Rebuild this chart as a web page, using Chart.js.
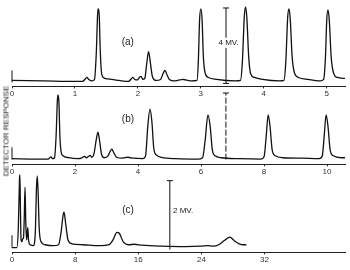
<!DOCTYPE html>
<html>
<head>
<meta charset="utf-8">
<script src="https://cdn.jsdelivr.net/npm/chart.js@4"></script>
<style>
  body { margin: 0; background: #fff; }
  #wrap { position: relative; width: 350px; height: 270px; overflow: hidden; }
  .panel { position: absolute; left: 0; width: 350px; }
  #ylabel {
    position: absolute; left: 6px; top: 131px;
    transform: translate(-50%, -50%) rotate(-90deg);
    font: 8px "Liberation Sans", sans-serif; color: #111; white-space: nowrap;
  }
</style>
</head>
<body>
<div id="wrap">
  <div class="panel" style="top:0;height:100px"><canvas id="chartA"></canvas></div>
  <div class="panel" style="top:88px;height:90px"><canvas id="chartB"></canvas></div>
  <div class="panel" style="top:168px;height:98px"><canvas id="chartC"></canvas></div>
  <div id="ylabel">DETECTOR RESPONSE</div>
</div>
<script>
// trace (a) - time units, signal height
const aTime = [0, 0.5, 1.0, 1.12, 1.17, 1.19, 1.22, 1.27, 1.31, 1.34, 1.36, 1.37, 1.385, 1.40, 1.42, 1.45, 1.52, 1.7, 1.85,
  1.90, 1.92, 1.95, 1.99, 2.03, 2.05, 2.08, 2.11, 2.14, 2.17, 2.20, 2.23, 2.29, 2.36, 2.40, 2.43, 2.46, 2.50, 2.58,
  2.66, 2.71, 2.76, 2.85, 2.94, 2.96, 2.98, 3.00, 3.02, 3.04, 3.07, 3.12, 3.25, 3.55, 3.63, 3.66, 3.69, 3.71, 3.73,
  3.76, 3.79, 3.85, 3.98, 4.25, 4.32, 4.35, 4.38, 4.40, 4.42, 4.45, 4.49, 4.55, 4.70, 4.90, 4.95, 4.98, 5.00, 5.02,
  5.04, 5.07, 5.11, 5.17, 5.29];
const aSignal = [1, 0.5, 0, 0, 3, 4, 2, 0.5, 2, 30, 68, 73, 68, 35, 10, 4, 2.5, 1, 0,
  3, 4, 2, 1.5, 4.5, 5, 2, 3, 18, 30, 18, 5, 1, 2, 8, 11, 7, 2, 0.5,
  1.5, 2, 1.5, 0.5, 1, 20, 62, 73, 62, 25, 8, 4, 2, 0.5, 1, 20, 65, 75, 65,
  25, 8, 4, 2, 0.5, 1, 20, 65, 73, 63, 25, 8, 4, 2, 0.5, 2, 25, 62, 72,
  62, 25, 8, 4, 3];

// trace (b)
const bTime = [0, 0.8, 1.15, 1.21, 1.24, 1.28, 1.35, 1.40, 1.44, 1.46, 1.49, 1.52, 1.56, 1.62, 1.8, 2.1, 2.2, 2.27,
  2.31, 2.36, 2.43, 2.48, 2.53, 2.60, 2.68, 2.73, 2.78, 2.84, 2.92, 3.05, 3.12, 3.17, 3.22, 3.32, 3.50, 3.68, 3.85,
  4.15, 4.24, 4.31, 4.38, 4.44, 4.50, 4.58, 4.75, 5.2, 5.9, 6.05, 6.13, 6.22, 6.29, 6.36, 6.45, 6.65, 7.2, 7.9,
  8.0, 8.07, 8.13, 8.19, 8.26, 8.36, 8.6, 9.2, 9.75, 9.85, 9.91, 9.97, 10.03, 10.10, 10.2, 10.45, 10.57];
const bSignal = [1, 0.5, 0.5, 2.5, 3, 1, 2, 25, 62, 68, 60, 25, 8, 4, 2, 1, 1.5, 3,
  3.5, 2, 3.5, 4.5, 2.5, 6, 22, 29, 20, 6, 2, 4, 9, 11, 8, 2.5, 1.5, 2.5, 1.5,
  1, 4, 35, 53, 40, 12, 5, 2.5, 1, 0.5, 2, 20, 47, 35, 10, 4, 2, 1, 0.5,
  3, 25, 47, 35, 10, 4, 2, 1.5, 1, 4, 25, 47, 35, 10, 4, 2, 2];

// trace (c)
const cTime = [0, 0.6, 0.8, 0.95, 1.0, 1.07, 1.15, 1.25, 1.35, 1.45, 1.55, 1.65, 1.75, 1.85, 1.93, 2.0, 2.1, 2.3,
  2.7, 2.95, 3.1, 3.2, 3.3, 3.45, 3.7, 4.2, 5.2, 5.9, 6.2, 6.5, 6.6, 6.8, 7.1, 7.6, 9, 11, 12.3, 12.8, 13.3, 13.6,
  14.1, 14.8, 15.5, 16.5, 19, 22, 24, 24.8, 25.5, 26.2, 27.0, 27.6, 28.2, 28.8, 29.3, 29.7];
const cSignal = [0, 0, 20, 72, 76, 40, 8, 6, 9, 10, 30, 63, 25, 8, 15, 21, 8, 3,
  2, 15, 62, 75, 60, 20, 6, 3, 2, 3, 15, 35, 37, 25, 8, 4, 3, 2, 3, 8, 16, 15,
  6, 3, 3.5, 2.5, 1.5, 1, 1.5, 2, 1.5, 3, 8, 11, 7, 4, 3, 3];

const aTicks = [0, 1, 2, 3, 4, 5];
const bTicks = [0, 2, 4, 6, 8, 10];
const cTicks = [0, 8, 16, 24, 32];

function toPoints(xs, ys) {
  return xs.map((x, i) => ({ x: x, y: ys[i] }));
}

// text notes drawn on top of a chart, in data units
const notesPlugin = {
  id: 'notes',
  afterDatasetsDraw(chart, args, opts) {
    const ctx = chart.ctx;
    const xs = chart.scales.x, ys = chart.scales.y;
    ctx.save();
    ctx.textBaseline = 'middle';
    (opts.items || []).forEach(n => {
      const px = xs.getPixelForValue(n.x), py = ys.getPixelForValue(n.y);
      ctx.font = n.size + 'px "Liberation Sans", sans-serif';
      ctx.textAlign = n.align || 'center';
      if (n.box) {
        const w = ctx.measureText(n.text).width;
        const left = n.align === 'left' ? px : px - w / 2;
        ctx.fillStyle = '#fff';
        ctx.fillRect(left - 1, py - 5, w + 2, 10);
      }
      ctx.fillStyle = '#222';
      ctx.fillText(n.text, px, py);
    });
    ctx.restore();
  }
};

function makeChart(id, time, signal, xMax, ticks, yMin, yMax, extras, notes, pad) {
  const datasets = [{
    data: toPoints(time, signal),
    borderColor: '#111',
    borderWidth: 1.3,
    pointRadius: 0,
    cubicInterpolationMode: 'monotone',
    clip: false
  }];
  extras.forEach(e => {
    datasets.push({
      data: toPoints(e.x, e.y),
      borderColor: '#111',
      borderWidth: 1,
      borderDash: e.dash || [],
      pointStyle: 'line',
      pointRadius: e.caps,
      pointBorderColor: '#111',
      pointBorderWidth: 1,
      clip: false
    });
  });
  return new Chart(document.getElementById(id), {
    type: 'line',
    data: { datasets: datasets },
    options: {
      responsive: true,
      maintainAspectRatio: false,
      animation: false,
      layout: { padding: { left: 12, right: 5, top: pad, bottom: 0 } },
      plugins: { legend: { display: false }, tooltip: { enabled: false }, notes: { items: notes } },
      scales: {
        x: {
          type: 'linear', min: 0, max: xMax,
          afterBuildTicks: s => { s.ticks = ticks.map(v => ({ value: v })); },
          grid: { display: true, drawOnChartArea: false, tickLength: 2, color: '#222' },
          border: { display: true, color: '#222', width: 1 },
          ticks: { padding: 1, font: { size: 8, family: 'Liberation Sans' }, color: '#333', maxRotation: 0 }
        },
        y: { display: false, min: yMin, max: yMax }
      }
    },
    plugins: [notesPlugin]
  });
}

// (a) with 4 MV scale bar
makeChart('chartA', aTime, aSignal, 5.29, aTicks, -5, 77, [
  { x: [0, 0], y: [-1, 11], caps: [0, 0] },
  { x: [3.40, 3.40], y: [-2, 74], caps: [3, 3] }
], [
  { text: '(a)', x: 1.84, y: 39, size: 10 },
  { text: '4 MV.', x: 3.44, y: 39, size: 8, box: true }
], 5);

// (b) dashed continuation of the bar
makeChart('chartB', bTime, bSignal, 10.57, bTicks, -5, 70, [
  { x: [0, 0], y: [0, 13], caps: [0, 0] },
  { x: [6.79, 6.79], y: [0, 70], caps: [0, 3], dash: [6, 2] }
], [
  { text: '(b)', x: 3.68, y: 42, size: 10 }
], 2);

// (c) with 2 MV scale bar
makeChart('chartC', cTime, cSignal, 42.2, cTicks, -5, 78, [
  { x: [0, 0], y: [0, 13], caps: [0, 0] },
  { x: [20.0, 20.0], y: [-2, 70], caps: [0, 3] }
], [
  { text: '(c)', x: 14.7, y: 39, size: 10 },
  { text: '2 MV.', x: 20.4, y: 38, size: 8, align: 'left' }
], 2);
</script>
</body>
</html>
